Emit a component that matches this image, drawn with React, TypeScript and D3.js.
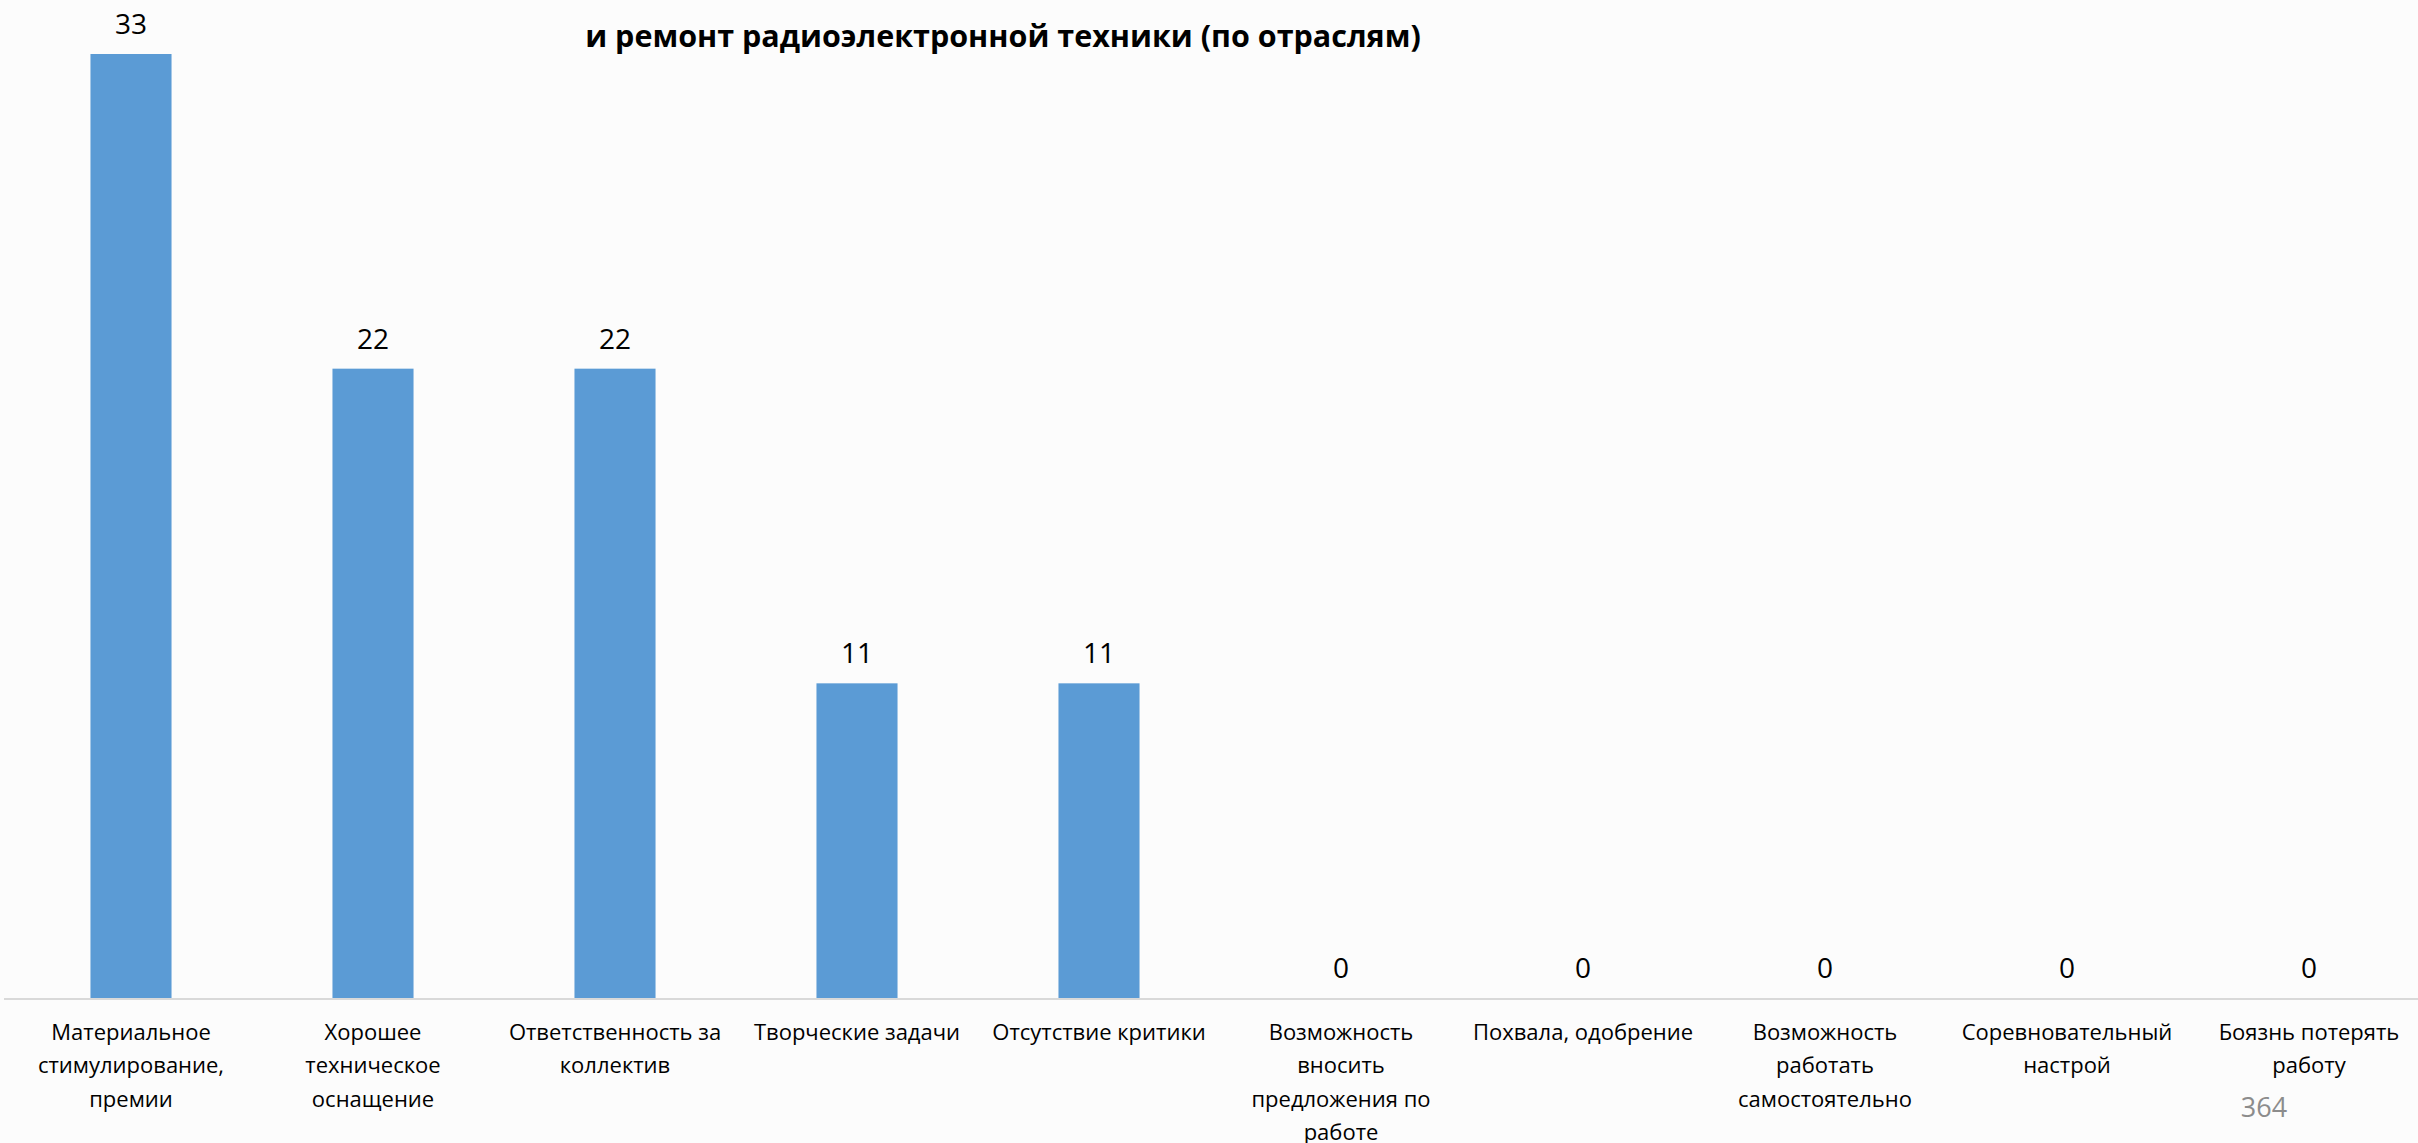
import { useEffect, useRef } from "react";
import * as d3 from "d3";

// Categories (each entry is a list of wrapped lines, as in the original)
const categories: string[][] = [
  ["Материальное", "стимулирование,", "премии"],
  ["Хорошее", "техническое", "оснащение"],
  ["Ответственность за", "коллектив"],
  ["Творческие задачи"],
  ["Отсутствие критики"],
  ["Возможность", "вносить", "предложения по", "работе"],
  ["Похвала, одобрение"],
  ["Возможность", "работать", "самостоятельно"],
  ["Соревновательный", "настрой"],
  ["Боязнь потерять", "работу"],
];

const values = [33, 22, 22, 11, 11, 0, 0, 0, 0, 0];

const titleText = "и ремонт радиоэлектронной техники (по отраслям)";
const pageNumber = "364";

const WIDTH = 2418;
const HEIGHT = 1143;

export default function App() {
  const svgRef = useRef<SVGSVGElement>(null);

  useEffect(() => {
    if (!svgRef.current) return;
    const svg = d3.select(svgRef.current);
    svg.selectAll("*").remove();

    const font = "'Open Sans', 'Noto Sans', sans-serif";
    const baseline = 998;
    const keys = categories.map((_, i) => String(i));

    // Scales
    const x = d3.scaleBand<string>()
      .domain(keys)
      .range([10, 2430])
      .paddingInner(0.665)
      .paddingOuter(0.3325);

    const y = d3.scaleLinear()
      .domain([0, 33])
      .range([baseline, 54]);

    // Background
    svg.append("rect")
      .attr("width", WIDTH)
      .attr("height", HEIGHT)
      .attr("fill", "#fcfcfc");

    // Bars
    svg.append("g")
      .selectAll("rect")
      .data(values)
      .enter()
      .append("rect")
      .attr("x", (_, i) => x(keys[i]) as number)
      .attr("y", d => y(d))
      .attr("width", x.bandwidth())
      .attr("height", d => baseline - y(d))
      .attr("fill", "#5b9bd5");

    // Category axis line
    svg.append("line")
      .attr("x1", 4)
      .attr("x2", WIDTH)
      .attr("y1", baseline + 1)
      .attr("y2", baseline + 1)
      .attr("stroke", "#d9d9d9")
      .attr("stroke-width", 2);

    // Data labels
    svg.append("g")
      .selectAll("text")
      .data(values)
      .enter()
      .append("text")
      .attr("x", (_, i) => (x(keys[i]) as number) + x.bandwidth() / 2)
      .attr("y", d => y(d) - 20)
      .attr("text-anchor", "middle")
      .attr("font-family", font)
      .attr("font-size", 28)
      .attr("fill", "#000")
      .text(d => d);

    // Category labels
    const labels = svg.append("g")
      .selectAll("text")
      .data(categories)
      .enter()
      .append("text")
      .attr("text-anchor", "middle")
      .attr("font-family", font)
      .attr("font-size", 22)
      .attr("fill", "#000");

    labels.each(function (lines, i) {
      const cx = (x(keys[i]) as number) + x.bandwidth() / 2;
      d3.select(this)
        .selectAll("tspan")
        .data(lines)
        .enter()
        .append("tspan")
        .attr("x", cx)
        .attr("y", (_, j) => 1040 + j * 33.3)
        .text(d => d);
    });

    // Title (second line visible only)
    svg.append("text")
      .attr("x", 1003)
      .attr("y", 47)
      .attr("text-anchor", "middle")
      .attr("font-family", font)
      .attr("font-size", 30.5)
      .attr("font-weight", "bold")
      .attr("fill", "#000")
      .text(titleText);

    // Page number
    svg.append("text")
      .attr("x", 2264)
      .attr("y", 1117)
      .attr("text-anchor", "middle")
      .attr("font-family", font)
      .attr("font-size", 27)
      .attr("fill", "#8c8c8c")
      .text(pageNumber);
  }, []);

  return (
    <svg
      ref={svgRef}
      width={WIDTH}
      height={HEIGHT}
      style={{ position: "absolute", left: 0, top: 0, display: "block" }}
    />
  );
}
